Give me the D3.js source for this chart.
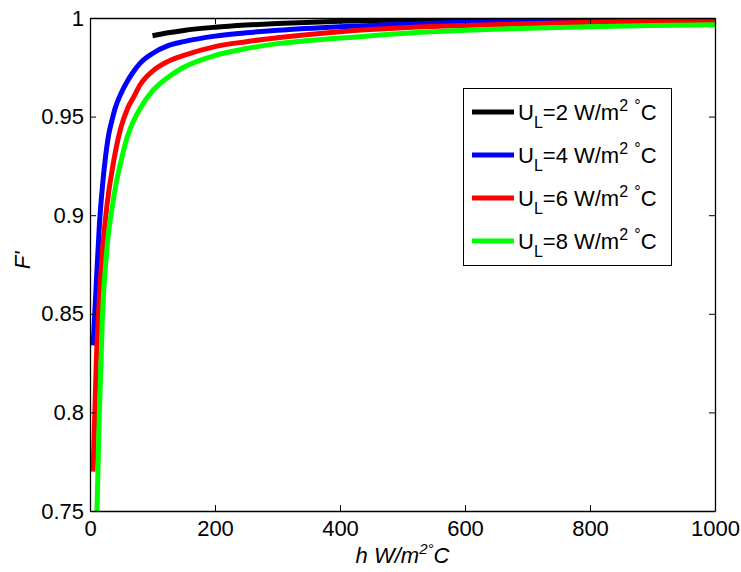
<!DOCTYPE html>
<html>
<head>
<meta charset="utf-8">
<script src="https://cdn.jsdelivr.net/npm/d3@7"></script>
<style>
  body { margin: 0; background: #fff; }
  svg text { font-family: Arial, "Liberation Sans", sans-serif; fill: #000; }
</style>
</head>
<body>
<svg id="chart" width="741" height="572"></svg>
<script>
// h values (W/m2 C) shared by the UL = 4, 6, 8 curves
const hVals = [5, 10, 15, 20, 25, 30, 35, 40, 50, 60, 70, 80, 100, 125, 150, 200, 250, 300, 400, 500, 600, 700, 800, 900, 1000];
// the UL = 2 curve only starts at h = 100
const hBlack = [100, 125, 150, 200, 250, 300, 400, 500, 600, 700, 800, 900, 1000];

const fUL2 = [0.9910, 0.9925, 0.9937, 0.9953, 0.9964, 0.9972, 0.9984, 0.9990, 0.9994, 0.9996, 0.9998, 0.9999, 1.0000];
const fUL4 = [0.834, 0.865, 0.895, 0.915, 0.930, 0.941, 0.948, 0.954, 0.962, 0.968, 0.973, 0.977, 0.982, 0.986, 0.988, 0.9908, 0.9925, 0.9938, 0.9956, 0.9968, 0.9978, 0.9985, 0.9990, 0.9994, 0.9997];
const fUL6 = [0.770, 0.825, 0.858, 0.882, 0.899, 0.912, 0.922, 0.931, 0.945, 0.954, 0.960, 0.966, 0.973, 0.978, 0.981, 0.9855, 0.988, 0.990, 0.9930, 0.9950, 0.9962, 0.9971, 0.9978, 0.9983, 0.9987];
const fUL8 = [0.690, 0.735, 0.800, 0.850, 0.875, 0.892, 0.903, 0.913, 0.928, 0.940, 0.948, 0.954, 0.963, 0.970, 0.975, 0.981, 0.9845, 0.987, 0.9898, 0.9922, 0.9938, 0.9948, 0.9956, 0.9962, 0.9966];

const ulLabels = ["2", "4", "6", "8"];
const colors = ["#000000", "#0000ff", "#ff0000", "#00ff00"];

const xTicks = [0, 200, 400, 600, 800, 1000];
const yTicks = [0.75, 0.8, 0.85, 0.9, 0.95, 1];
const yTickLabels = ["0.75", "0.8", "0.85", "0.9", "0.95", "1"];

const series = [
  { h: hBlack, f: fUL2 },
  { h: hVals, f: fUL4 },
  { h: hVals, f: fUL6 },
  { h: hVals, f: fUL8 }
];

const width = 741, height = 572;
const margin = { top: 18, right: 26, bottom: 61, left: 90 };
const iw = width - margin.left - margin.right;
const ih = height - margin.top - margin.bottom;

const svg = d3.select('#chart');
const g = svg.append('g').attr('transform', `translate(${margin.left},${margin.top})`);

const x = d3.scaleLinear().domain([0, 1000]).range([0, iw]);
const y = d3.scaleLinear().domain([0.75, 1]).range([ih, 0]);

g.append('clipPath').attr('id', 'plotclip')
  .append('rect').attr('width', iw).attr('height', ih);

// curves
const line = d3.line()
  .x(d => x(d[0]))
  .y(d => y(d[1]))
  .curve(d3.curveMonotoneX);

const lines = g.append('g').attr('clip-path', 'url(#plotclip)');
series.forEach((s, i) => {
  lines.append('path')
    .datum(s.h.map((h, j) => [h, s.f[j]]))
    .attr('fill', 'none')
    .attr('stroke', colors[i])
    .attr('stroke-width', 5)
    .attr('d', line);
});

// axes, ticks pointing inward on all four sides
const fontSize = 22;
g.append('g').attr('transform', `translate(0,${ih})`)
  .call(d3.axisBottom(x).tickValues(xTicks).tickFormat(d3.format('d'))
    .tickSizeInner(-6).tickSizeOuter(0).tickPadding(9));
g.append('g')
  .call(d3.axisLeft(y).tickValues(yTicks).tickFormat((d, i) => yTickLabels[i])
    .tickSizeInner(-6).tickSizeOuter(0).tickPadding(6));
g.append('g')
  .call(d3.axisTop(x).tickValues(xTicks).tickSizeInner(-6).tickSizeOuter(0).tickFormat(''));
g.append('g').attr('transform', `translate(${iw},0)`)
  .call(d3.axisRight(y).tickValues(yTicks).tickSizeInner(-6).tickSizeOuter(0).tickFormat(''));

g.selectAll('.domain').attr('stroke', '#000').attr('stroke-width', 1.3);
g.selectAll('.tick line').attr('stroke', '#000').attr('stroke-width', 1);
g.selectAll('.tick text').attr('font-size', fontSize).attr('font-family', 'Arial, "Liberation Sans", sans-serif');

// axis labels
const xl = svg.append('text')
  .attr('x', margin.left + iw / 2)
  .attr('y', 563)
  .attr('text-anchor', 'middle')
  .attr('font-size', fontSize)
  .attr('font-style', 'italic');
xl.append('tspan').text('h W/m');
xl.append('tspan').attr('dy', -9).attr('font-size', 15).text('2\u00b0');
xl.append('tspan').attr('dy', 9).text('C');

svg.append('text')
  .attr('transform', `translate(30,${margin.top + ih / 2 - 4}) rotate(-90)`)
  .attr('text-anchor', 'middle')
  .attr('font-size', fontSize)
  .attr('font-style', 'italic')
  .text("F'");

// legend
const legend = svg.append('g');
legend.append('rect')
  .attr('x', 463.5).attr('y', 88.5)
  .attr('width', 208).attr('height', 177)
  .attr('fill', '#fff').attr('stroke', '#000').attr('stroke-width', 1);

ulLabels.forEach((u, i) => {
  const ly = 112 + i * 43;
  legend.append('line')
    .attr('x1', 472).attr('x2', 514)
    .attr('y1', ly).attr('y2', ly)
    .attr('stroke', colors[i]).attr('stroke-width', 5);
  const t = legend.append('text')
    .attr('x', 518).attr('y', ly + 8)
    .attr('font-size', fontSize);
  t.append('tspan').text('U');
  t.append('tspan').attr('dy', 8).attr('font-size', 16).text('L');
  t.append('tspan').attr('dy', -8).text(`=${u} W/m`);
  t.append('tspan').attr('dy', -9).attr('font-size', 16).text('2');
  t.append('tspan').attr('dy', 9).text(' ');
  t.append('tspan').attr('dy', -9).attr('font-size', 16).text('\u00b0');
  t.append('tspan').attr('dy', 9).text('C');
});
</script>
</body>
</html>
